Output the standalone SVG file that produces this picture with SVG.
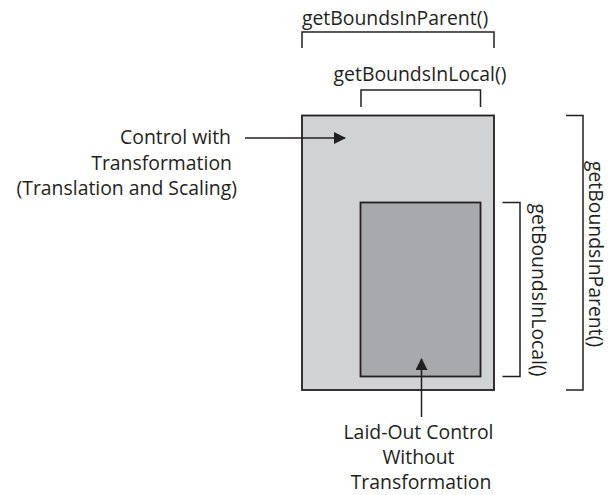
<svg xmlns="http://www.w3.org/2000/svg" width="609" height="495" viewBox="0 0 609 495">
  <style>
    .lbl { font-family: "Open Sans", "Liberation Sans", sans-serif; font-size: 19.4px; fill: #231f20; }
    .br { fill: none; stroke: #231f20; stroke-width: 1.5; }
    .ln { fill: none; stroke: #231f20; stroke-width: 1.5; }
  </style>
  <defs>
    <marker id="head" markerWidth="12" markerHeight="12" refX="11" refY="6" orient="auto" markerUnits="userSpaceOnUse">
      <path d="M0,0 L12,6 L0,12 Z" fill="#231f20"/>
    </marker>
  </defs>
  <rect width="609" height="495" fill="#ffffff"/>

  <!-- transformed control (outer box) -->
  <g id="transformed-control">
    <rect x="302" y="115.5" width="192" height="274.5" fill="#d1d2d4" stroke="#231f20" stroke-width="1.8"/>
  </g>

  <!-- laid-out control (inner box) -->
  <g id="laid-out-control">
    <rect x="360.5" y="202.5" width="120" height="174" fill="#a7a9ac" stroke="#231f20" stroke-width="1.8"/>
  </g>

  <!-- top brackets -->
  <g id="parent-bounds-top">
    <path class="br" d="M302,48 V32 H494 V48"/>
    <text class="lbl" x="395" y="25" text-anchor="middle">getBoundsInParent()</text>
  </g>
  <g id="local-bounds-top">
    <path class="br" d="M361,107 V90 H480.5 V107"/>
    <text class="lbl" x="420" y="81" text-anchor="middle">getBoundsInLocal()</text>
  </g>

  <!-- side brackets -->
  <g id="local-bounds-side">
    <path class="br" d="M502.5,202.5 H520 V376.5 H502.5"/>
    <text class="lbl" transform="translate(532,290) rotate(90)" text-anchor="middle">getBoundsInLocal()</text>
  </g>
  <g id="parent-bounds-side">
    <path class="br" d="M566,115.5 H583 V390 H566"/>
    <text class="lbl" transform="translate(589,254) rotate(90)" text-anchor="middle">getBoundsInParent()</text>
  </g>

  <!-- callout labels -->
  <g id="label-transformed">
    <text class="lbl" text-anchor="end">
      <tspan x="236" y="144">Control with</tspan>
      <tspan x="237" y="170">Transformation</tspan>
      <tspan x="237" y="195">(Translation and Scaling)</tspan>
    </text>
  </g>
  <g id="label-laid-out">
    <text class="lbl" text-anchor="middle">
      <tspan x="421" y="439">Laid-Out Control</tspan>
      <tspan x="421" y="464">Without</tspan>
      <tspan x="421" y="489">Transformation</tspan>
    </text>
  </g>

  <!-- connectors -->
  <g id="connectors">
    <line class="ln" x1="245" y1="138" x2="345" y2="138" marker-end="url(#head)"/>
    <line class="ln" x1="421.5" y1="417" x2="421.5" y2="359" marker-end="url(#head)"/>
  </g>
</svg>
